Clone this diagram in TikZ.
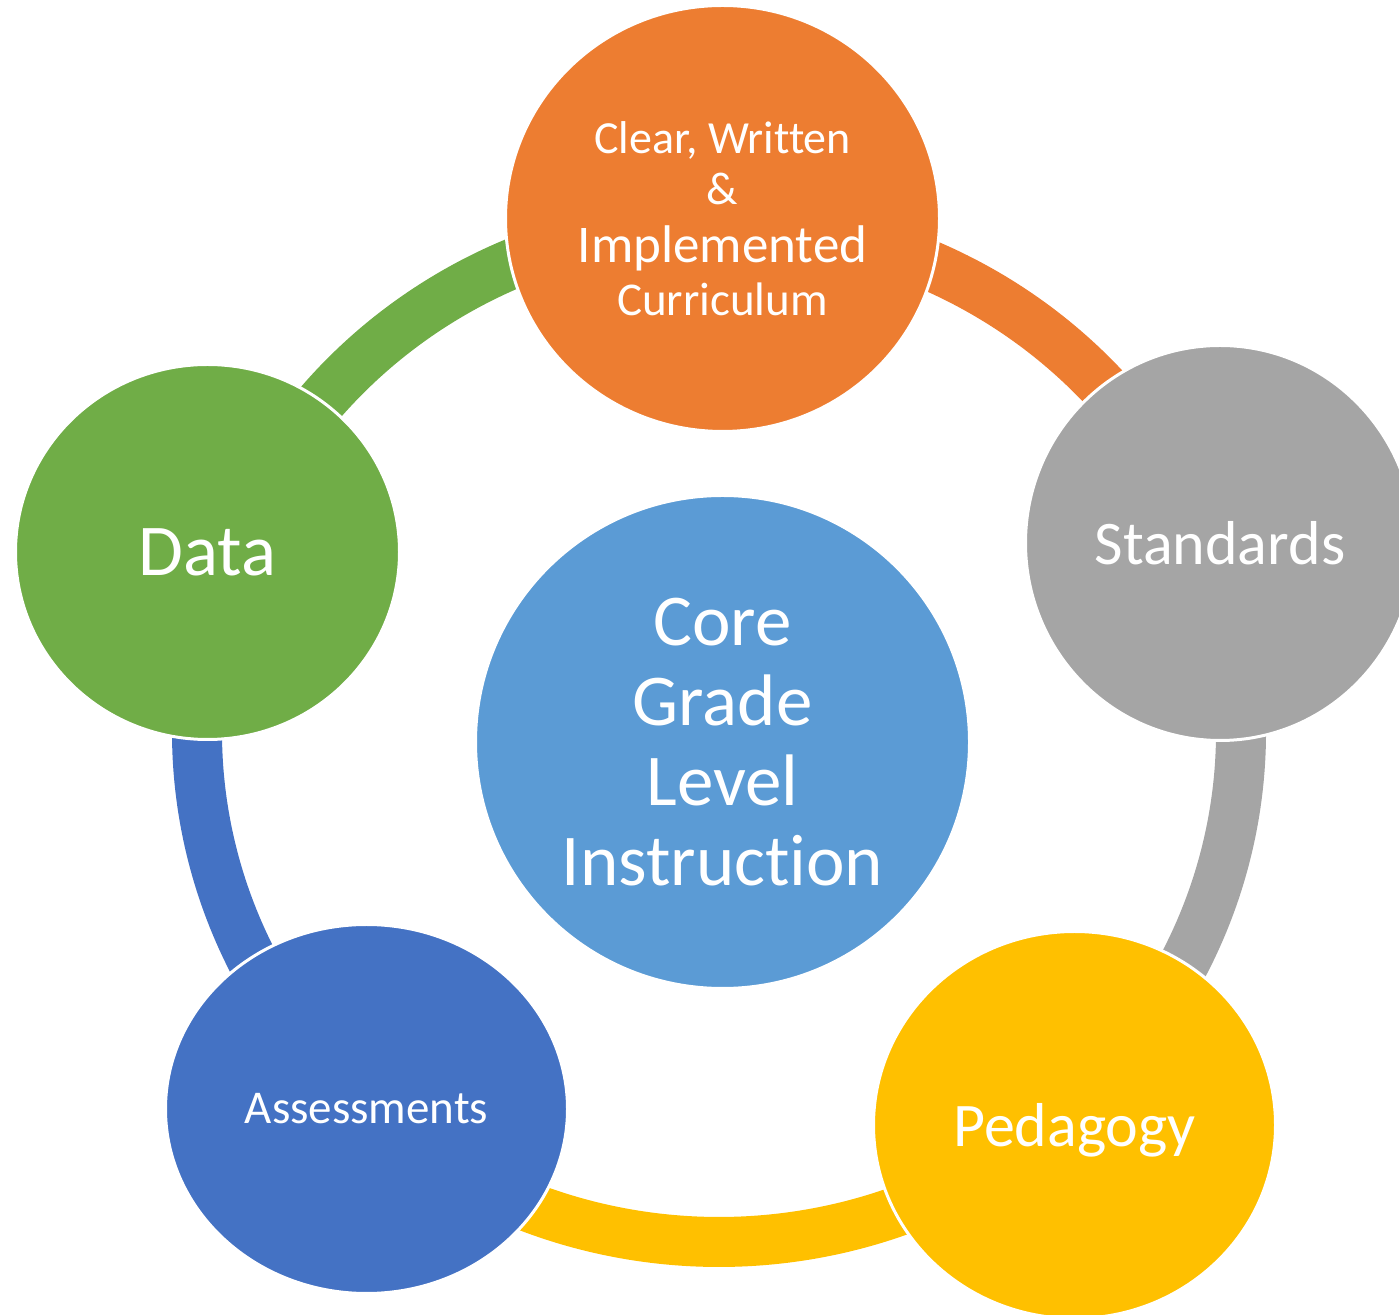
\documentclass[tikz,border=0pt]{standalone}
\usepackage{fontspec}
\setmainfont{Carlito}[Ligatures=NoCommon]
\usetikzlibrary{shapes.geometric,backgrounds}
\definecolor{orangeC}{HTML}{ED7D31}
\definecolor{grayC}{HTML}{A5A5A5}
\definecolor{goldC}{HTML}{FFC000}
\definecolor{blueC}{HTML}{4472C4}
\definecolor{greenC}{HTML}{70AD47}
\definecolor{skyC}{HTML}{5B9BD5}

\begin{document}
\begin{tikzpicture}[x=1pt, y=1pt,
	bubble/.style={ellipse, inner sep=0pt, draw=white, line width=3pt, text=white, align=center},
	ring/.style={line width=50pt}]
				\clip (0,0) rectangle (1399,1314);
				\node[bubble, fill=skyC, minimum width=494pt, minimum height=493pt, font=\fontsize{73}{80}\selectfont] (core) at (722.5,572) {Core\\Grade\\Level\\Instruction};
				\node[bubble, fill=orangeC, minimum width=434pt, minimum height=426pt, font=\fontsize{46}{54}\selectfont] (curr) at (722.5,1095.5) {\fontsize{46}{54}\selectfont Clear, Written\\[-3pt] \fontsize{46}{54}\selectfont \&\\[4pt] \fontsize{53}{54}\selectfont Implemented\\[-1pt] \fontsize{47}{54}\selectfont Curriculum};
				\node[bubble, fill=grayC, minimum width=389pt, minimum height=395pt, font=\fontsize{62}{70}\selectfont] (stand) at (1220,771) {Standards};
				\node[bubble, fill=goldC, minimum width=402pt, minimum height=387pt, font=\fontsize{62}{70}\selectfont, text depth=0pt] (ped) at (1074.5,189) {Pedagogy};
				\node[bubble, fill=blueC, minimum width=402pt, minimum height=369pt, font=\fontsize{47}{53}\selectfont] (assess) at (366.5,205) {Assessments};
				\node[bubble, fill=greenC, minimum width=384pt, minimum height=375pt, font=\fontsize{73}{80}\selectfont] (data) at (207.5,762) {Data};
				\coordinate (hub) at (719,582);
				\begin{scope}[on background layer]
					\draw[ring, greenC] (hub) ++(160:522pt and 510pt) arc[start angle=160, end angle=90, x radius=522pt, y radius=510pt];
					\draw[ring, orangeC] (hub) ++(90:522pt and 510pt) arc[start angle=90, end angle=21, x radius=522pt, y radius=510pt];
					\draw[ring, grayC] (hub) ++(21:522pt and 510pt) arc[start angle=21, end angle=-48, x radius=522pt, y radius=510pt];
					\draw[ring, goldC] (hub) ++(-48:522pt and 510pt) arc[start angle=-48, end angle=-132, x radius=522pt, y radius=510pt];
					\draw[ring, blueC] (hub) ++(-132:522pt and 510pt) arc[start angle=-132, end angle=-200, x radius=522pt, y radius=510pt];
				\end{scope}
			\end{tikzpicture}
\end{document}
